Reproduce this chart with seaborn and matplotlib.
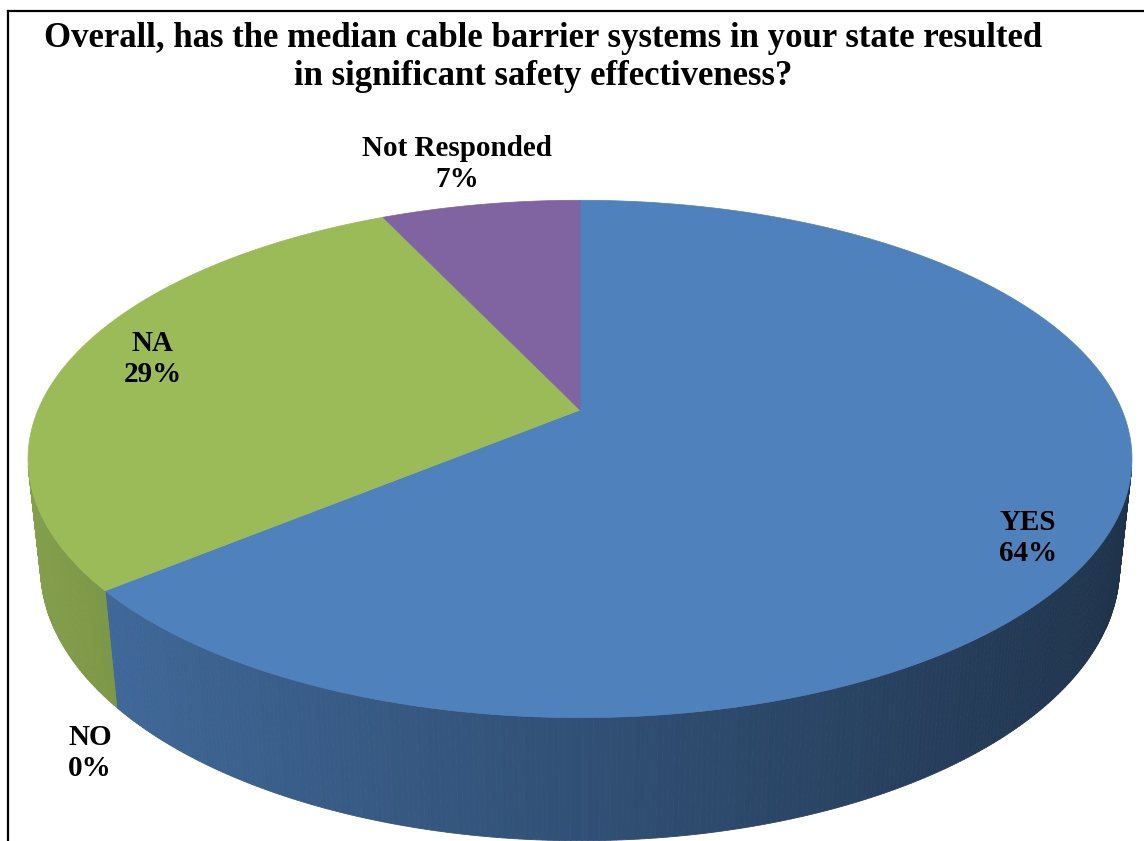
import numpy as np
import matplotlib
matplotlib.use("Agg")
import matplotlib.pyplot as plt
from matplotlib.patches import Polygon
import seaborn as sns

# ---- data ----
categories = ["YES", "NO", "NA", "Not Responded"]
percent = [64, 0, 29, 7]
top_colors = ["#4F81BD", "#C0504D", "#9BBB59", "#8064A2"]
title = ("Overall, has the median cable barrier systems in your state resulted\n"
         "in significant safety effectiveness?")

# label centres on the canvas (pixels)
label_pos = {"YES": (1028, 538), "NO": (90, 753), "NA": (153, 359),
             "Not Responded": (457, 164)}

W, H = 1144, 841
sns.set_theme(style="white")
plt.rcParams["font.family"] = ["Liberation Serif", "DejaVu Serif"]

fig = plt.figure(figsize=(W / 100, H / 100), dpi=100)
ax = fig.add_axes([0, 0, 1, 1])
ax.set_xlim(0, W)
ax.set_ylim(H, 0)
ax.axis("off")

# perspective camera looking down on the disc
elev = np.deg2rad(27.4)
dist = 4.692
scale = 542
cx, cy = 580, 410
depth = 0.2273
sin_e, cos_e = np.sin(elev), np.cos(elev)


def project(x, y, z):
    v = y * sin_e + z * cos_e
    w = y * cos_e - z * sin_e
    k = dist / (dist + w)
    return cx + scale * x * k, cy - scale * v * k


def shade(hex_color, t):
    rgb = np.array(matplotlib.colors.to_rgb(hex_color))
    f = 0.62 - 0.24 * np.cos(t)
    return tuple(np.clip(rgb * f, 0, 1))


# slice angles: start at 12 o'clock, run clockwise
bounds = []
cum = 0.0
for p in percent:
    a0 = np.deg2rad(90 - cum * 3.6)
    a1 = np.deg2rad(90 - (cum + p) * 3.6)
    bounds.append((a0, a1))
    cum += p

# side wall (only the part facing the camera)
facing_limit = -1.0 / (dist * cos_e)
for (a0, a1), col in zip(bounds, top_colors):
    if a0 == a1:
        continue
    n = max(2, int(abs(np.rad2deg(a0 - a1)) * 2))
    ts = np.linspace(a0, a1, n + 1)
    for ta, tb in zip(ts[:-1], ts[1:]):
        tm = 0.5 * (ta + tb)
        if np.sin(tm) >= facing_limit + 0.02:
            continue
        pts = [project(np.cos(ta), np.sin(ta), 0), project(np.cos(tb), np.sin(tb), 0),
               project(np.cos(tb), np.sin(tb), -depth), project(np.cos(ta), np.sin(ta), -depth)]
        c = shade(col, tm)
        ax.add_patch(Polygon(pts, closed=True, facecolor=c, edgecolor=c, lw=0.6))

# top face
for (a0, a1), col in zip(bounds, top_colors):
    if a0 == a1:
        continue
    ts = np.linspace(a0, a1, 400)
    pts = [project(0, 0, 0)] + [project(np.cos(t), np.sin(t), 0) for t in ts]
    ax.add_patch(Polygon(pts, closed=True, facecolor=col, edgecolor=col, lw=0.5))

# data labels
for name, p in zip(categories, percent):
    x, y = label_pos[name]
    ax.text(x, y, f"{name}\n{p}%", ha="center", va="center", fontsize=21,
            fontweight="bold", color="black", linespacing=1.15, multialignment="center")

# title
ax.text(543, 57, title, ha="center", va="center", fontsize=25, fontweight="bold",
        color="black", linespacing=1.2)

# chart-area border
ax.plot([8, 8], [H + 5, 11], color="black", lw=1.6, solid_capstyle="projecting")
ax.plot([8, W + 5], [11, 11], color="black", lw=1.6, solid_capstyle="projecting")

fig.savefig("out.png", dpi=100)
